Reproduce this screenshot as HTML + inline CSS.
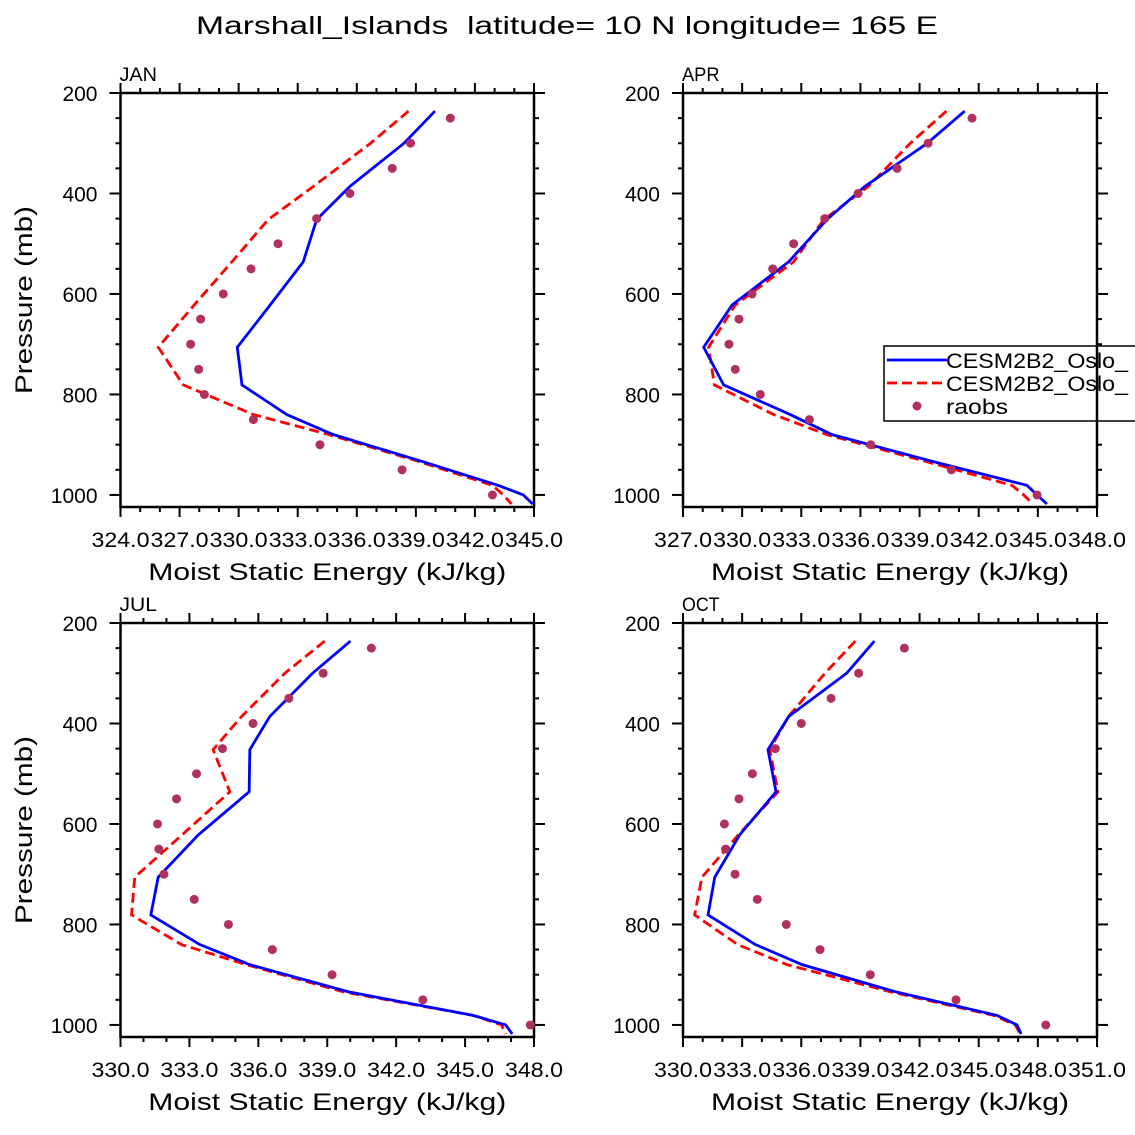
<!DOCTYPE html>
<html><head><meta charset="utf-8"><style>
body{margin:0;background:#fff;}
svg{display:block;font-family:"Liberation Sans","DejaVu Sans",sans-serif;}
</style></head><body>
<svg id="chart" width="1135" height="1135" viewBox="0 0 1135 1135" xmlns="http://www.w3.org/2000/svg">
<rect width="1135" height="1135" fill="#fff"/>
<text x="567" y="34" font-size="25" text-anchor="middle" fill="#000" textLength="742" lengthAdjust="spacingAndGlyphs" xml:space="preserve">Marshall_Islands  latitude= 10 N longitude= 165 E</text>
</svg>
<script>
const levels = [236, 300, 386, 452, 536, 622, 706, 781, 840, 880, 934, 981, 1000, 1018];
const obsLevels = [250, 300, 350, 400, 450, 500, 550, 600, 650, 700, 750, 800, 850, 900, 950, 1000];
const pressureTicks = [200, 400, 600, 800, 1000];

const janBlue = [339.97, 338.4, 335.65, 333.96, 333.28, 331.6, 329.93, 330.17, 332.44, 334.81, 339.38, 343.19, 344.46, 344.93];
const janRed = [338.63, 336.7, 333.79, 331.5, 329.66, 327.74, 325.92, 327.19, 330.75, 334.6, 339.2, 342.9, 343.44, 343.86];
const janObs = [340.75, 338.73, 337.8, 335.65, 333.96, 332.0, 330.63, 329.22, 328.07, 327.56, 327.97, 328.26, 330.75, 334.13, 338.3, 342.89];
const janTicks = ["324.0", "327.0", "330.0", "333.0", "336.0", "339.0", "342.0", "345.0"];

const aprBlue = [341.29, 339.39, 336.22, 334.30, 332.36, 329.49, 328.05, 329.06, 332.44, 334.56, 339.72, 344.45, 344.96, 345.46];
const aprRed = [340.36, 338.53, 336.4, 334.14, 332.61, 329.65, 328.30, 328.59, 331.60, 334.30, 339.38, 343.69, 344.28, 344.75];
const aprObs = [341.66, 339.43, 337.86, 335.88, 334.19, 332.61, 331.55, 330.50, 329.84, 329.33, 329.65, 330.92, 333.41, 336.52, 340.61, 344.96];
const aprTicks = ["327.0", "330.0", "333.0", "336.0", "339.0", "342.0", "345.0", "348.0"];

const julBlue = [340.01, 338.36, 336.50, 335.63, 335.60, 333.38, 331.64, 331.32, 333.45, 335.63, 339.91, 345.35, 346.77, 347.05];
const julRed = [338.89, 337.15, 335.27, 334.03, 334.76, 332.67, 330.62, 330.48, 332.65, 335.48, 339.69, 345.35, 346.58, 346.77];
const julObs = [340.92, 338.82, 337.33, 335.77, 334.44, 333.31, 332.44, 331.61, 331.67, 331.89, 333.21, 334.70, 336.61, 339.21, 343.16, 347.84];
const julTicks = ["330.0", "333.0", "336.0", "339.0", "342.0", "345.0", "348.0"];

const octBlue = [339.71, 338.3, 335.36, 334.31, 334.72, 332.87, 331.61, 331.27, 333.67, 336.04, 340.77, 345.93, 346.94, 347.15];
const octRed = [338.74, 337.2, 335.36, 334.4, 334.82, 332.8, 330.96, 330.59, 332.77, 335.28, 340.52, 345.76, 346.86, 347.1];
const octObs = [341.23, 338.91, 337.51, 336.0, 334.68, 333.52, 332.84, 332.10, 332.16, 332.64, 333.77, 335.24, 336.95, 339.5, 343.85, 348.40];
const octTicks = ["330.0", "333.0", "336.0", "339.0", "342.0", "345.0", "348.0", "351.0"];

const NS = "http://www.w3.org/2000/svg";
const svg = document.getElementById("chart");
function mk(tag, attrs, parent) {
  const e = document.createElementNS(NS, tag);
  for (const k in attrs) e.setAttribute(k, attrs[k]);
  (parent || svg).appendChild(e);
  return e;
}

function panel(id, label, x0, x1, y0, y1, xmin, xmax, ticks, blue, red, obs, showYTitle, legend) {
  const g = mk("g", {});
  
  
  const pmin = 200, pmax = 1024;
  const sx = v => x0 + (v - xmin) / (xmax - xmin) * (x1 - x0);
  const sy = p => y0 + (p - pmin) / (pmax - pmin) * (y1 - y0);

  const box = mk("rect", {x: x0, y: y0, width: x1 - x0, height: y1 - y0, fill: "none", stroke: "#000", "stroke-width": 2.5}, g);
  
  

  for (let v = xmin; v <= xmax + 1e-6; v += 1) {
    const major = Math.abs((v - xmin) % 3) < 1e-6;
    const len = major ? 10 : 5;
    const x = sx(v);
    mk("line", {x1: x, x2: x, y1: y1, y2: y1 + len, stroke: "#000", "stroke-width": 2}, g);
    mk("line", {x1: x, x2: x, y1: y0, y2: y0 - len, stroke: "#000", "stroke-width": 2}, g);
  }
  for (let p = 200; p <= 1000; p += 50) {
    const major = p % 200 === 0;
    const len = major ? 11 : 5;
    const y = sy(p);
    mk("line", {x1: x0, x2: x0 - len, y1: y, y2: y, stroke: "#000", "stroke-width": 2}, g);
    mk("line", {x1: x1, x2: x1 + len, y1: y, y2: y, stroke: "#000", "stroke-width": 2}, g);
  }
  ticks.forEach((t, i) => {
    const v = xmin + i * 3;
    const tx = mk("text", {x: sx(v), y: y1 + 40, "font-size": 21, "text-anchor": "middle", textLength: 58, lengthAdjust: "spacingAndGlyphs"}, g);
    
    
    tx.textContent = t;
  });
  pressureTicks.forEach(p => {
    const tx = mk("text", {x: x0 - 23, y: sy(p) + 8, "font-size": 21, "text-anchor": "end"}, g);
    
    
    tx.textContent = String(p);
  });
  const xt = mk("text", {x: (x0 + x1) / 2, y: y1 + 73, "font-size": 24, "text-anchor": "middle", textLength: 358, lengthAdjust: "spacingAndGlyphs"}, g);
  
  
  xt.textContent = "Moist Static Energy (kJ/kg)";
  if (showYTitle) {
    const cy = (y0 + y1) / 2;
    const yt = mk("text", {x: 32, y: cy, "font-size": 24, "text-anchor": "middle", transform: "rotate(-90 32 " + cy + ")", textLength: 188, lengthAdjust: "spacingAndGlyphs"}, g);
    
    
    yt.textContent = "Pressure (mb)";
  }
  const lb = mk("text", {x: x0 - 1, y: y0 - 12, "font-size": 19, textLength: label.length * 12.5, lengthAdjust: "spacingAndGlyphs"}, g);
  
  
  lb.textContent = label;

  const redLine = mk("polyline", {points: red.map((v, i) => sx(v) + "," + sy(levels[i])).join(" "), fill: "none", stroke: "#ff0000", "stroke-width": 2.8, "stroke-dasharray": "10 5"}, g);
  
  
  const blueLine = mk("polyline", {points: blue.map((v, i) => sx(v) + "," + sy(levels[i])).join(" "), fill: "none", stroke: "#0000ff", "stroke-width": 2.8}, g);
  
  
  obs.forEach((v, i) => {
    const c = mk("circle", {cx: sx(v), cy: sy(obsLevels[i]), r: 4.5, fill: "#b03060"}, g);
    
    
  });

  if (legend) {
    const lg = mk("g", {}, g);
    
    
    mk("rect", {x: 884, y: 346, width: 260, height: 75, fill: "#fff", stroke: "#000", "stroke-width": 1.5}, lg);
    const l1 = mk("line", {x1: 887, x2: 947, y1: 360, y2: 360, stroke: "#0000ff", "stroke-width": 2.8}, lg);
    
    
    const l2 = mk("line", {x1: 887, x2: 947, y1: 383, y2: 383, stroke: "#ff0000", "stroke-width": 2.8, "stroke-dasharray": "10 5"}, lg);
    
    
    const d = mk("circle", {cx: 917, cy: 406, r: 4.5, fill: "#b03060"}, lg);
    
    
    [["CESM2B2_Oslo_", 368, 182], ["CESM2B2_Oslo_", 391, 182], ["raobs", 414, 62]].forEach(a => {
      const t = mk("text", {x: 946, y: a[1], "font-size": 21, textLength: a[2], lengthAdjust: "spacingAndGlyphs"}, lg);
      
      
      t.textContent = a[0];
    });
    mk("line", {x1: x1, x2: x1, y1: 346, y2: 421, stroke: "#000", "stroke-width": 2.5}, lg);
  }
}

panel("jan", "JAN", 120.5, 534, 93, 507, 324, 345, janTicks, janBlue, janRed, janObs, true, false);
panel("apr", "APR", 683, 1097, 93, 507, 327, 348, aprTicks, aprBlue, aprRed, aprObs, false, true);
panel("jul", "JUL", 120.5, 534, 623, 1037, 330, 348, julTicks, julBlue, julRed, julObs, true, false);
panel("oct", "OCT", 683, 1097, 623, 1037, 330, 351, octTicks, octBlue, octRed, octObs, false, false);
</script>
</body></html>
